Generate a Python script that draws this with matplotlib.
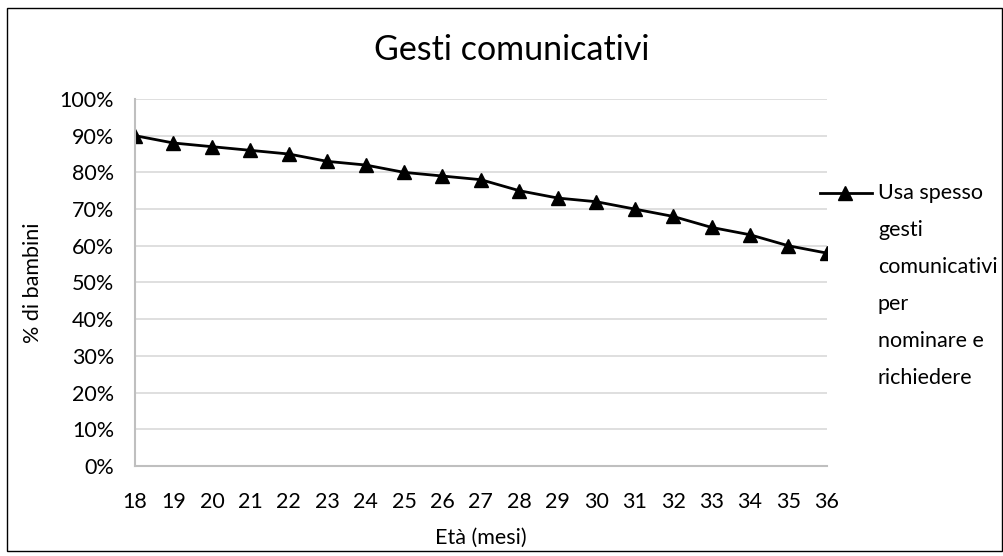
import matplotlib.pyplot as plt
from matplotlib.lines import Line2D
from matplotlib.patches import Rectangle
from matplotlib.ticker import PercentFormatter

plt.rcParams['font.family'] = ['Lato', 'DejaVu Sans']

# data
eta = [18, 19, 20, 21, 22, 23, 24, 25, 26, 27, 28, 29, 30, 31, 32, 33, 34, 35, 36]
perc = [90, 88, 87, 86, 85, 83, 82, 80, 79, 78, 75, 73, 72, 70, 68, 65, 63, 60, 58]
serie = 'Usa spesso\ngesti\ncomunicativi\nper\nnominare e\nrichiedere'

fs = 15.5
fig = plt.figure(figsize=(10.04, 5.56), dpi=100)
ax = fig.add_axes([0.1345, 0.162, 0.689, 0.66])

ax.plot(eta, perc, color='black', lw=2, marker='^', ms=10)

ax.set_xlim(18, 36)
ax.set_ylim(0, 100)
ax.set_xticks(eta)
ax.set_yticks(range(0, 101, 10))
ax.yaxis.set_major_formatter(PercentFormatter(decimals=0))
ax.tick_params(length=0, labelsize=fs, colors='#000000')
ax.tick_params(axis='x', pad=19)
ax.tick_params(axis='y', pad=15)
ax.grid(axis='y', color='#d9d9d9', lw=1.2)
ax.set_axisbelow(True)
for s in ['top', 'right']:
    ax.spines[s].set_visible(False)
for s in ['left', 'bottom']:
    ax.spines[s].set_color('#bfbfbf')
    ax.spines[s].set_linewidth(1.5)

ax.set_xlabel('Età (mesi)', fontsize=fs, labelpad=11)
ax.set_ylabel('% di bambini', fontsize=fs, labelpad=12)
fig.text(0.51, 0.91, 'Gesti comunicativi', fontsize=24.5, ha='center', va='center')

# legend: handle beside the first line of a wrapped label
ax.add_line(Line2D([0.99, 1.065], [0.744, 0.744], transform=ax.transAxes,
                   color='black', lw=2, clip_on=False))
ax.add_line(Line2D([1.027], [0.744], transform=ax.transAxes, color='black',
                   marker='^', ms=10, clip_on=False))
ax.text(1.074, 0.772, serie, transform=ax.transAxes, fontsize=fs,
        ha='left', va='top', linespacing=2.07)

fig.add_artist(Rectangle((7 / 1004, 5 / 556), 995 / 1004, 543 / 556,
                         transform=fig.transFigure, fill=False, ec='black', lw=1))

fig.savefig('out.png', dpi=100)
